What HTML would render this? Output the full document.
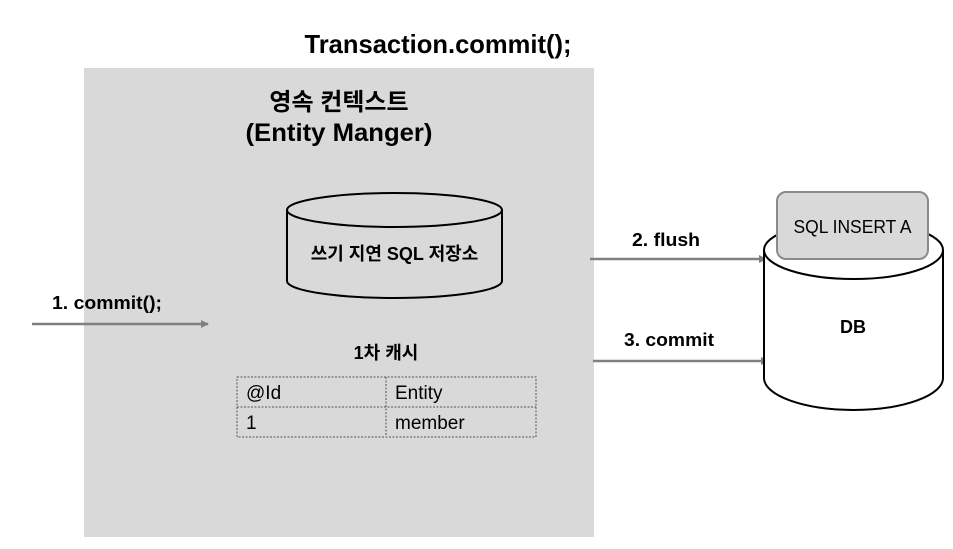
<!DOCTYPE html>
<html><head><meta charset="utf-8"><style>
html,body{margin:0;padding:0;background:#fff;}
svg{display:block;}
text{font-family:"Liberation Sans","Noto Sans CJK KR",sans-serif;fill:#000;}
</style></head><body>
<svg width="953" height="549" viewBox="0 0 953 549" xmlns="http://www.w3.org/2000/svg">
<defs>
<marker id="ah" markerWidth="8" markerHeight="8" refX="7" refY="4" orient="auto" markerUnits="userSpaceOnUse">
<path d="M0,0 L8,4 L0,8 Z" fill="#808080"/>
</marker>
</defs>
<text x="438" y="53" font-size="26" font-weight="bold" text-anchor="middle" textLength="267" lengthAdjust="spacingAndGlyphs">Transaction.commit();</text>
<rect x="84" y="68" width="510" height="469" fill="#d9d9d9"/>
<text x="339" y="110" font-size="24" font-weight="bold" text-anchor="middle">영속 컨텍스트</text>
<text x="339" y="141" font-size="25" font-weight="bold" text-anchor="middle" textLength="187" lengthAdjust="spacingAndGlyphs">(Entity Manger)</text>
<path d="M287,210 L287,281 A107.5,17 0 0 0 502,281 L502,210" fill="#d9d9d9" stroke="#000" stroke-width="2"/>
<ellipse cx="394.5" cy="210" rx="107.5" ry="17" fill="#d9d9d9" stroke="#000" stroke-width="2"/>
<text x="394.5" y="260" font-size="18" font-weight="bold" text-anchor="middle">쓰기 지연 SQL 저장소</text>
<text x="386" y="359" font-size="18" font-weight="bold" text-anchor="middle">1차 캐시</text>
<g stroke="#555" stroke-width="1" stroke-dasharray="2,1.5" fill="none">
<rect x="237" y="377" width="299" height="60"/>
<line x1="237" y1="407" x2="536" y2="407"/>
<line x1="386" y1="377" x2="386" y2="437"/>
</g>
<text x="246" y="399" font-size="19">@Id</text>
<text x="395" y="399" font-size="19">Entity</text>
<text x="246" y="429" font-size="19">1</text>
<text x="395" y="429" font-size="19">member</text>
<line x1="32" y1="324" x2="208" y2="324" stroke="#808080" stroke-width="2.5" marker-end="url(#ah)"/>
<text x="52" y="309" font-size="18" font-weight="bold" textLength="110" lengthAdjust="spacingAndGlyphs">1. commit();</text>
<line x1="590" y1="259" x2="766" y2="259" stroke="#808080" stroke-width="2.5" marker-end="url(#ah)"/>
<text x="632" y="246" font-size="18" font-weight="bold" textLength="68" lengthAdjust="spacingAndGlyphs">2. flush</text>
<line x1="593" y1="361" x2="768" y2="361" stroke="#808080" stroke-width="2.5" marker-end="url(#ah)"/>
<text x="624" y="346" font-size="18" font-weight="bold" textLength="90" lengthAdjust="spacingAndGlyphs">3. commit</text>
<path d="M764,250 L764,378 A89.5,32 0 0 0 943,378 L943,250" fill="#fff" stroke="#000" stroke-width="2"/>
<ellipse cx="853.5" cy="250" rx="89.5" ry="29" fill="#fff" stroke="#000" stroke-width="2"/>
<text x="853" y="333" font-size="18" font-weight="bold" text-anchor="middle">DB</text>
<rect x="777" y="192" width="151" height="67" rx="9" fill="#d9d9d9" stroke="#8a8a8a" stroke-width="2"/>
<text x="852.5" y="233" font-size="18" text-anchor="middle" textLength="118" lengthAdjust="spacingAndGlyphs">SQL INSERT A</text>
</svg>
</body></html>
